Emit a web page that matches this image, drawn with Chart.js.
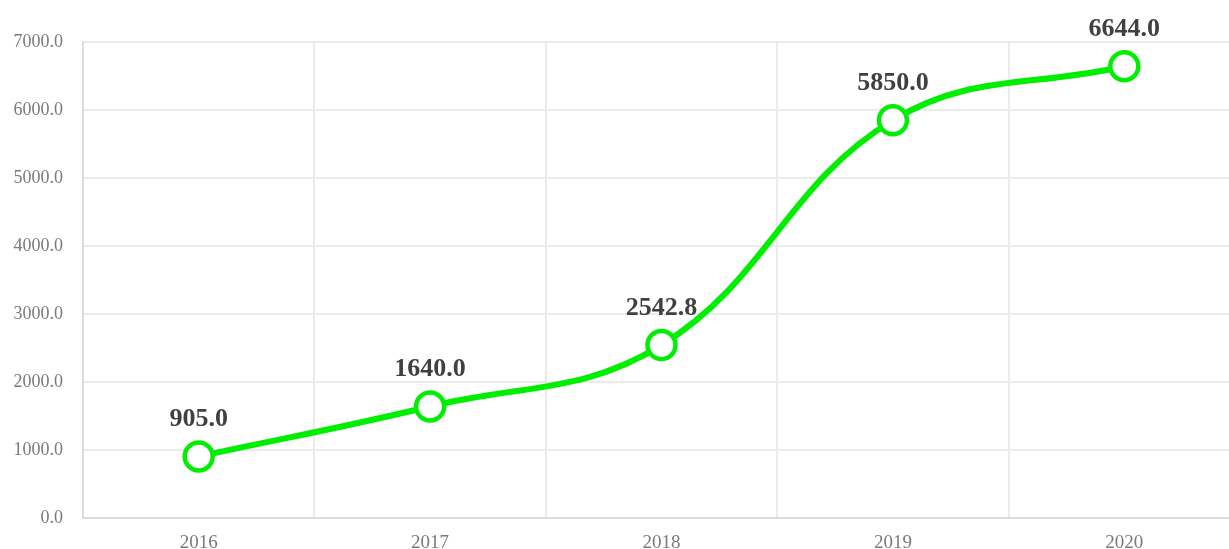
<!DOCTYPE html>
<html lang="zh">
<head>
    <meta charset="UTF-8">
    <title>Chart</title>
    <style>
        html, body {
            margin: 0;
            padding: 0;
            background: #fff;
            overflow: hidden;
        }
        #myChart {
            display: block;
        }
    </style>
</head>
<body>
    <canvas id="myChart" width="1240" height="549"></canvas>

    <script src="https://cdn.jsdelivr.net/npm/chart.js"></script>
    <script>
        // 数据
        const years = ['2016', '2017', '2018', '2019', '2020'];
        const values = [905.0, 1640.0, 2542.8, 5850.0, 6644.0];
        const yTicks = [0, 1000, 2000, 3000, 4000, 5000, 6000, 7000];

        const green = '#00ee00';
        const gridColor = '#ebebeb';

        // 数据标签插件
        const valueLabels = {
            id: 'valueLabels',
            afterDatasetsDraw(chart) {
                const ctx = chart.ctx;
                const meta = chart.getDatasetMeta(0);
                ctx.save();
                ctx.font = 'bold 26px "Liberation Serif", "DejaVu Serif", serif';
                ctx.fillStyle = '#404040';
                ctx.textAlign = 'center';
                ctx.textBaseline = 'middle';
                meta.data.forEach((pt, i) => {
                    ctx.fillText(values[i].toFixed(1), pt.x, pt.y - 37);
                });
                ctx.restore();
            }
        };

        const ctx = document.getElementById('myChart').getContext('2d');
        const myChart = new Chart(ctx, {
            type: 'line',
            data: {
                labels: years,
                datasets: [{
                    data: values,
                    borderColor: green,
                    borderWidth: 6,
                    tension: 0.4,
                    pointRadius: 14,
                    pointBorderWidth: 4.5,
                    pointBackgroundColor: '#ffffff',
                    pointBorderColor: green,
                    fill: false
                }]
            },
            options: {
                responsive: false,
                animation: false,
                layout: {
                    autoPadding: false,
                    padding: { top: 42, left: 0, right: 0, bottom: 0 }
                },
                scales: {
                    x: {
                        offset: true,
                        afterFit: (s) => { s.height = 31; },
                        grid: {
                            offset: true,
                            color: gridColor,
                            lineWidth: 2,
                            drawTicks: false
                        },
                        border: { color: '#dcdcdc', width: 2 },
                        ticks: {
                            padding: 14,
                            color: '#7a7a7a',
                            font: { family: '"Liberation Serif", serif', size: 19 }
                        }
                    },
                    y: {
                        min: 0,
                        max: 7000,
                        afterFit: (s) => { s.width = 83; },
                        afterBuildTicks: (s) => { s.ticks = yTicks.map(v => ({ value: v })); },
                        grid: {
                            color: gridColor,
                            lineWidth: 2,
                            drawTicks: false
                        },
                        border: { color: '#dcdcdc', width: 2 },
                        ticks: {
                            padding: 20,
                            color: '#7a7a7a',
                            font: { family: '"Liberation Serif", serif', size: 18 },
                            callback: (v) => Number(v).toFixed(1)
                        }
                    }
                },
                plugins: {
                    legend: { display: false },
                    tooltip: { enabled: false }
                }
            },
            plugins: [valueLabels]
        });
    </script>
</body>
</html>
